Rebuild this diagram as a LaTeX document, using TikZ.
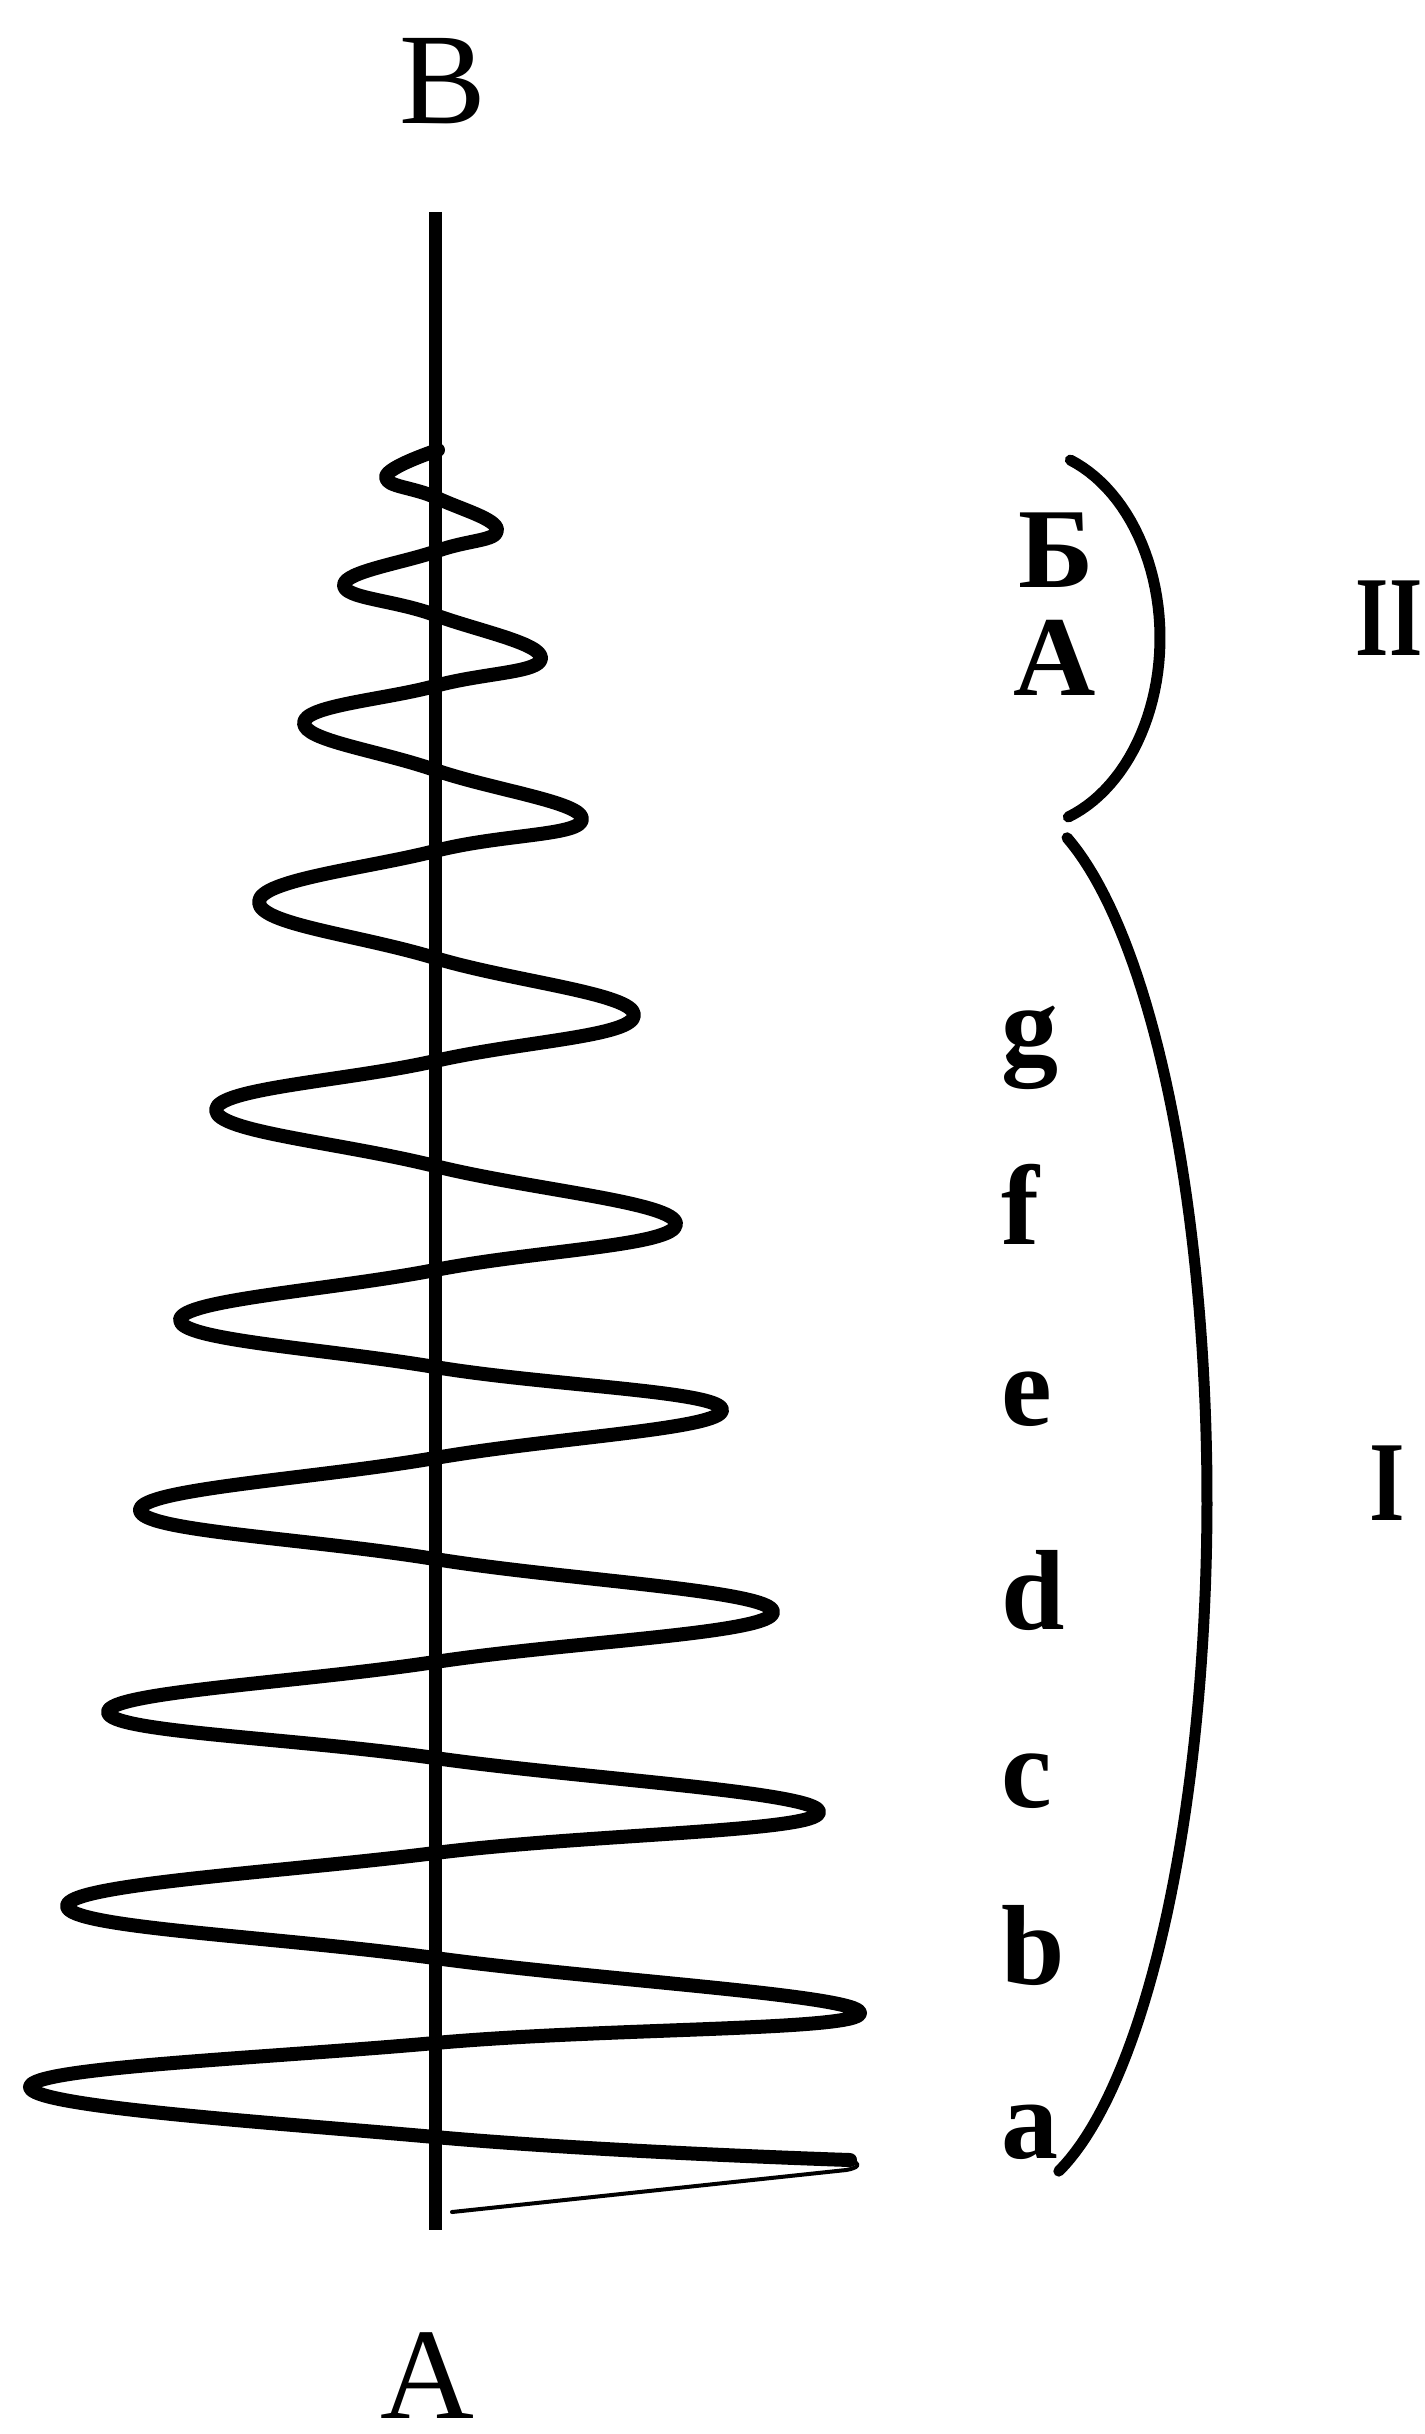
\documentclass[tikz,border=0pt]{standalone}
\usepackage{fontspec}
\setmainfont{Liberation Serif}
\begin{document}
\begin{tikzpicture}[x=0.5pt,y=-0.5pt,
  axisline/.style={line width=6.5pt},
  coil/.style={line width=7pt, line join=round, line cap=round},
  tailline/.style={line width=2pt, line cap=round},
  bracket/.style={line width=5.5pt, line cap=round},
  axislabel/.style={inner sep=0pt, anchor=base, text depth=0pt, font=\fontsize{65}{70}\selectfont},
  lbl/.style={inner sep=0pt, text depth=0pt, font=\bfseries\fontsize{57}{60}\selectfont}]
\useasboundingbox (0,0) rectangle (1424,2434);
\fill[white] (0,0) rectangle (1424,2434);
% axis
\coordinate (top) at (435,212);
\coordinate (bot) at (435,2230);
\draw[axisline] (top) -- (bot);
\node[axislabel] (B) at (443,124) {B};
\node[axislabel] (A) at (427,2418) {A};
% coil
\draw[coil] plot[smooth, tension=0.75] coordinates {
 (438,450) (386,477) (437,498) (497,530) (437,551) (344,585) (435,615)
 (541,658) (435,686) (304,723) (435,770) (582,819) (435,851) (259,902)
 (435,958) (634,1015) (435,1061) (216,1110) (435,1166) (676,1224) (435,1270)
 (180,1320) (435,1367) (722,1410) (435,1458) (140,1510) (435,1559) (773,1612)
 (435,1662) (108,1712) (435,1758) (819,1812) (435,1853) (67,1906) (435,1958)
 (860,2013) (435,2043) (30,2087) (435,2137) (850,2160)};
\coordinate (tipend) at (850,2160);
\coordinate (tailend) at (452,2212);
\draw[tailline] (tipend) .. controls (862,2164) and (858,2168) .. (846,2170) -- (tailend);
% brackets
\draw[bracket] plot[domain=-69.5:70.4, samples=50] ({1022+138*cos(\x)},{638+190*sin(\x)});
\draw[bracket] plot[domain=-71.1:73.5, samples=90] ({1000+207*cos(\x)},{1500+700*sin(\x)});
% labels
\node[lbl, anchor=base] (Bcyr) at (1056,587) {Б};
\node[lbl, anchor=base] (Acyr) at (1055,695) {А};
\node[lbl, anchor=base] (II) at (1389,655) {\scalebox{0.75}[1]{II}};
\node[lbl, anchor=base] (I) at (1387,1520) {\scalebox{0.8}[1]{I}};
\node[lbl, anchor=base west] (g) at (1001,1064) {g};
\node[lbl, anchor=base west] (f) at (1001,1244) {f};
\node[lbl, anchor=base west] (e) at (1001,1425) {e};
\node[lbl, anchor=base west] (d) at (1001,1629) {d};
\node[lbl, anchor=base west] (c) at (1001,1807) {c};
\node[lbl, anchor=base west] (b) at (1001,1984) {b};
\node[lbl, anchor=base west] (a) at (1001,2158) {a};
\end{tikzpicture}
\end{document}
